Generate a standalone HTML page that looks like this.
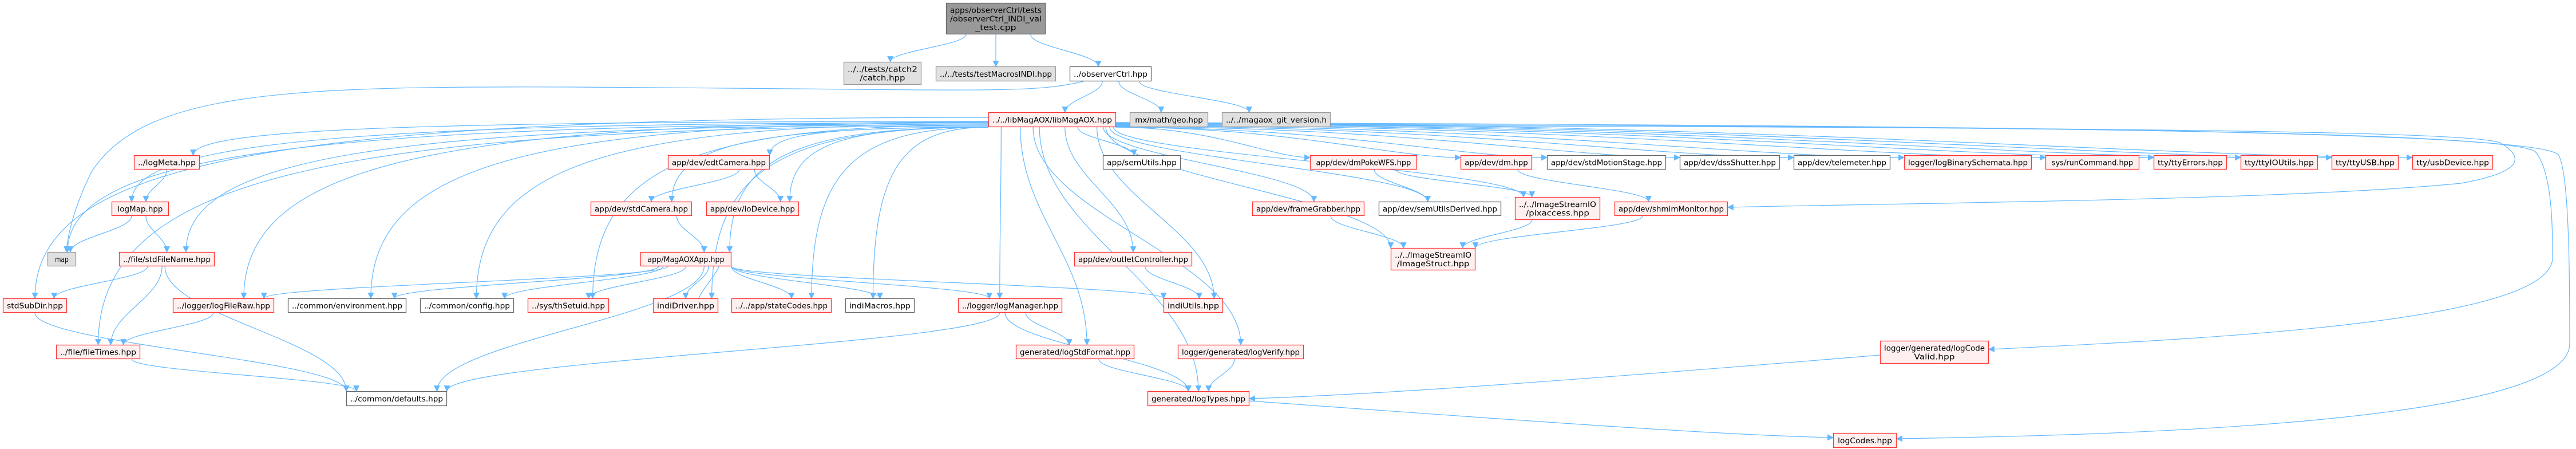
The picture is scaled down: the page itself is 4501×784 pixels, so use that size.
<!DOCTYPE html>
<html><head><meta charset="utf-8"><style>
html,body{margin:0;padding:0;background:#fff;}
svg{display:block;}
text{font-family:"DejaVu Sans","Liberation Sans",sans-serif;font-size:13px;fill:#000;}
</style></head><body>
<svg id="g" width="4501" height="784" viewBox="0 0 4501 784" xmlns="http://www.w3.org/2000/svg">
<defs><marker id="a" viewBox="0 0 10 10" refX="9" refY="5" markerWidth="11" markerHeight="11" markerUnits="userSpaceOnUse" orient="auto"><path d="M0,0 L10,5 L0,10 z" fill="#63b8ff"/></marker></defs>
<g id="edges" fill="none" stroke="#63b8ff" stroke-width="1.2"></g>
<g id="nodes"></g>
</svg>
<script>
var N={
top:[1653,5,1827,60,'k',['apps/observerCtrl/tests','/observerCtrl_INDI_val','_test.cpp']],
catch2:[1474,108,1610,148,'g',['../../tests/catch2','/catch.hpp']],
tm:[1635,116,1845,142,'g',['../../tests/testMacrosINDI.hpp']],
oc:[1869,116,2012,142,'w',['../observerCtrl.hpp']],
L:[1727,196,1950,222,'r',['../../libMagAOX/libMagAOX.hpp']],
geo:[1974,196,2111,222,'g',['mx/math/geo.hpp']],
git:[2135,196,2325,222,'g',['../../magaox_git_version.h']],
logMeta:[234,271,349,296,'r',['../logMeta.hpp']],
edt:[1167,271,1345,296,'r',['app/dev/edtCamera.hpp']],
sem:[1927,271,2063,296,'w',['app/semUtils.hpp']],
dmp:[2289,271,2476,296,'r',['app/dev/dmPokeWFS.hpp']],
dm:[2552,271,2677,296,'r',['app/dev/dm.hpp']],
sms:[2703,271,2911,296,'w',['app/dev/stdMotionStage.hpp']],
dss:[2935,271,3110,296,'w',['app/dev/dssShutter.hpp']],
tel:[3134,271,3303,296,'w',['app/dev/telemeter.hpp']],
lbs:[3327,271,3550,296,'r',['logger/logBinarySchemata.hpp']],
run:[3574,271,3738,296,'r',['sys/runCommand.hpp']],
tte:[3763,271,3891,296,'r',['tty/ttyErrors.hpp']],
tti:[3915,271,4050,296,'r',['tty/ttyIOUtils.hpp']],
ttu:[4074,271,4191,296,'r',['tty/ttyUSB.hpp']],
usb:[4215,271,4356,296,'r',['tty/usbDevice.hpp']],
logMap:[195,352,295,377,'r',['logMap.hpp']],
stdc:[1032,352,1209,377,'r',['app/dev/stdCamera.hpp']],
iod:[1234,352,1396,377,'r',['app/dev/ioDevice.hpp']],
fg:[2188,352,2384,377,'r',['app/dev/frameGrabber.hpp']],
sud:[2409,352,2623,377,'w',['app/dev/semUtilsDerived.hpp']],
pix:[2647,344,2796,384,'r',['../../ImageStreamIO','/pixaccess.hpp']],
shm:[2821,352,3019,377,'r',['app/dev/shmimMonitor.hpp']],
map:[83,440,133,465,'g',['map']],
sfn:[208,440,375,465,'r',['../file/stdFileName.hpp']],
app:[1119,440,1278,465,'r',['app/MagAOXApp.hpp']],
outc:[1877,440,2083,465,'r',['app/dev/outletController.hpp']],
ist:[2430,433,2578,472,'r',['../../ImageStreamIO','/ImageStruct.hpp']],
ssd:[5,521,117,546,'r',['stdSubDir.hpp']],
lfr:[302,521,479,546,'r',['../logger/logFileRaw.hpp']],
env:[503,521,710,546,'w',['../common/environment.hpp']],
cfg:[734,521,898,546,'w',['../common/config.hpp']],
ths:[922,521,1064,546,'r',['../sys/thSetuid.hpp']],
idr:[1141,521,1255,546,'r',['indiDriver.hpp']],
stc:[1278,521,1453,546,'r',['../../app/stateCodes.hpp']],
imac:[1477,521,1598,546,'w',['indiMacros.hpp']],
lm:[1674,521,1856,546,'r',['../logger/logManager.hpp']],
iu:[2033,521,2137,546,'r',['indiUtils.hpp']],
ft:[98,602,245,627,'r',['../file/fileTimes.hpp']],
lsf:[1775,602,1982,627,'r',['generated/logStdFormat.hpp']],
lv:[2058,602,2278,627,'r',['logger/generated/logVerify.hpp']],
lcv:[3285,595,3475,635,'r',['logger/generated/logCode','Valid.hpp']],
def:[605,683,781,709,'w',['../common/defaults.hpp']],
lt:[2005,683,2183,709,'r',['generated/logTypes.hpp']],
lc:[3203,756,3314,782,'r',['logCodes.hpp']]
};
var S={r:['#fff0f0','#ff3333'],w:['#ffffff','#666666'],g:['#e0e0e0','#999999'],k:['#999999','#666666']};
var ns='http://www.w3.org/2000/svg';
var gn=document.getElementById('nodes'),ge=document.getElementById('edges');
for(var k in N){var n=N[k];var r=document.createElementNS(ns,'rect');
r.setAttribute('x',n[0]+.5);r.setAttribute('y',n[1]+.5);r.setAttribute('width',n[2]-n[0]-1);r.setAttribute('height',n[3]-n[1]-1);
r.setAttribute('fill',S[n[4]][0]);r.setAttribute('stroke',S[n[4]][1]);r.setAttribute('stroke-width','1.3');gn.appendChild(r);
var L=n[5],cx=(n[0]+n[2])/2,cy=(n[1]+n[3])/2;
for(var i=0;i<L.length;i++){var t=document.createElementNS(ns,'text');t.setAttribute('x',cx);
t.setAttribute('y',cy+(i-(L.length-1)/2)*15+5);t.setAttribute('text-anchor','middle');
var tl=Math.min((n[2]-n[0])-14,L[i].length*7.9);t.setAttribute('textLength',tl);t.setAttribute('lengthAdjust','spacingAndGlyphs');
t.textContent=L[i];gn.appendChild(t);}}
function P(d){var p=document.createElementNS(ns,'path');p.setAttribute('d',d);p.setAttribute('marker-end','url(#a)');ge.appendChild(p);}
function bot(k,f){var n=N[k];return [n[0]+(n[2]-n[0])*(f==null?.5:f),n[3]];}
function topc(k,f){var n=N[k];return [n[0]+(n[2]-n[0])*(f==null?.5:f),n[1]];}
function E(a,b,fa,fb){var s=bot(a,fa),t=topc(b,fb);var dy=t[1]-s[1];
P('M'+s[0]+','+s[1]+' C'+s[0]+','+(s[1]+dy*.4)+' '+t[0]+','+(t[1]-dy*.4)+' '+t[0]+','+t[1]);}
// far edge from libMagAOX
function F(b,fb,sy){var n=N.L,t=topc(b,fb);var left=t[0]<n[0];var sx=left?n[0]:n[2];sy=sy||210;
P('M'+sx+','+sy+' C'+(sx+(t[0]-sx)*.75)+','+sy+' '+t[0]+','+(sy+(t[1]-sy)*.25)+' '+t[0]+','+t[1]);}
function Side(b,sy,ty){var n=N.L,m=N[b];var sx=n[2];var tx=m[0];
P('M'+sx+','+sy+' C'+(sx+(tx-sx)*.5)+','+sy+' '+(tx-(tx-sx)*.2)+','+ty+' '+tx+','+ty);}
E('top','catch2',.2,.6);E('top','tm',.5,.5);E('top','oc',.85,.35);
E('oc','L',.4,.6);E('oc','geo',.6,.4);E('oc','git',.85,.25);
P('M1893,142 C1800,165 1700,156 1000,152 C500,150 250,160 160,300 C130,360 118,410 116,440');
F('logMeta',.9,212);F('logMap',.35,214);F('map',.7,216);F('sfn',.7,218);F('ssd',.5,205);F('lfr',.7,213);
F('env',.7,214);F('cfg',.6,216);F('ths',.8,218);F('ft',.5,220);F('stdc',.8,222);F('iod',.9,222);F('app',.98,222);
F('idr',.9,222);F('stc',.8,222);F('imac',.4,222);F('edt',1,222);
E('L','lm',.1,.4);E('L','iu',.85,.85);E('L','lsf',.25,.6);E('L','lv',.35,.5);E('L','lt',.4,.5);
E('L','sem',.7,.4);E('L','outc',.6,.5);E('L','fg',.9,.55);E('L','sud',.95,.4);E('L','pix',.98,.1);E('L','ist',.92,0);
Side('dmp',222,275);Side('dm',222,275);Side('sms',222,275);Side('dss',221,275);Side('tel',220,275);Side('lbs',219,275);
Side('run',218,275);Side('tte',217,275);Side('ttu',215,275);Side('tti',216,275);Side('usb',214,275);
P('M1950,218 C3500,222 4330,226 4370,250 C4410,275 4410,300 4300,320 C4000,350 3300,355 3019,362');
P('M1950,216 C3500,220 4380,228 4430,265 C4460,300 4460,400 4460,450 C4460,560 3900,590 3475,610');
P('M1950,214 C3500,218 4430,230 4470,270 C4490,300 4490,500 4490,600 C4490,740 3700,760 3314,766');
// lower edges
E('logMeta','logMap',.5,.6);E('logMap','map',.35,.8);E('logMap','sfn',.6,.5);
E('sfn','ssd',.3,.8);E('sfn','ft',.45,.65);E('sfn','def',.48,0);E('ssd','def',.5,0);E('lfr','ft',.4,.8);E('ft','def',.9,.1);
E('edt','stdc',.7,.6);E('edt','iod',.85,.8);E('stdc','app',.85,.7);
E('app','lfr',.3,.9);E('app','env',.2,.9);E('app','cfg',.25,.9);E('app','ths',.5,.75);E('app','idr',.75,.5);E('app','stc',1,.6);
E('app','imac',1,.5);E('app','def',.7,.9);E('app','lm',1,.3);E('app','iu',1,0);E('idr','app',.65,.9);
E('lm','lsf',.65,.45);E('lm','lt',.45,.4);E('lm','def',.4,1);
E('dmp','sud',.6,.4);E('dmp','pix',.8,.2);E('dm','shm',.8,.3);
E('fg','ist',.7,.15);E('pix','ist',.2,.85);E('shm','ist',.25,1);E('outc','iu',.6,.6);
E('lsf','lt',.7,.4);E('lv','lt',.45,.6);
P('M3285,620 C2800,660 2400,690 2183,696');
P('M2183,700 C2600,730 3000,760 3203,764');
</script>
</body></html>
